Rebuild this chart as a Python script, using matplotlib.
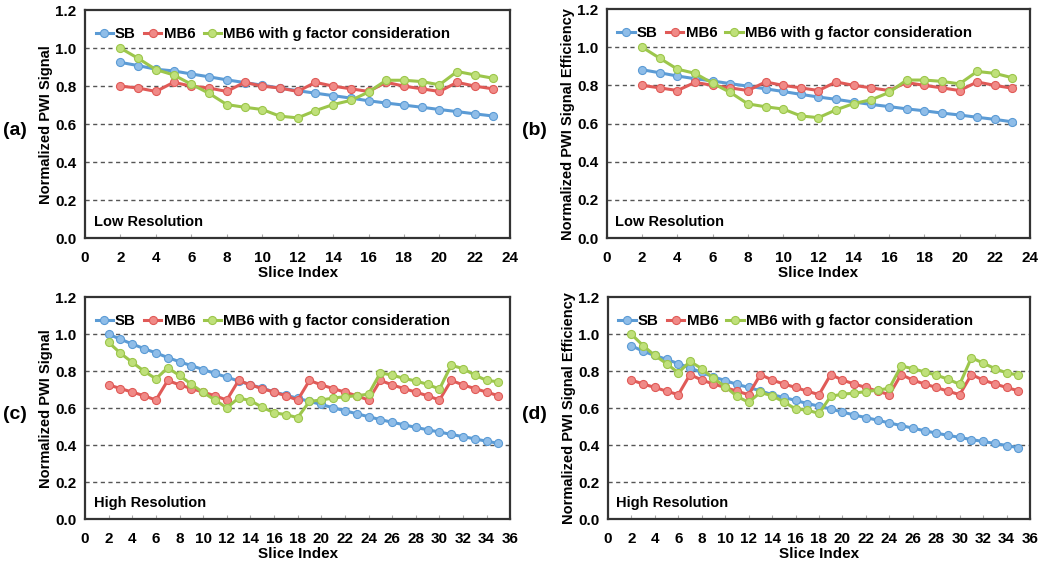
import matplotlib
matplotlib.use("Agg")
import matplotlib.pyplot as plt
from matplotlib.ticker import MultipleLocator

plt.rcParams['font.family'] = ['Liberation Sans', 'DejaVu Sans']
plt.rcParams['font.weight'] = 'bold'

# ---------------- data ----------------
slices_low = list(range(2, 24))
slices_high = list(range(2, 36))

a_sb = [0.925, 0.908, 0.889, 0.880, 0.864, 0.849, 0.833, 0.819, 0.805, 0.790, 0.776,
        0.763, 0.750, 0.737, 0.723, 0.711, 0.700, 0.689, 0.677, 0.666, 0.654, 0.643]
a_mb6 = [0.800, 0.790, 0.772, 0.820, 0.800, 0.790, 0.772, 0.820, 0.800, 0.790, 0.772,
         0.820, 0.800, 0.786, 0.772, 0.820, 0.800, 0.786, 0.772, 0.820, 0.800, 0.786]
a_mb6g = [1.000, 0.946, 0.887, 0.859, 0.810, 0.762, 0.703, 0.689, 0.677, 0.642, 0.633,
          0.671, 0.703, 0.725, 0.769, 0.831, 0.831, 0.824, 0.807, 0.877, 0.859, 0.842]

b_sb = [0.882, 0.866, 0.849, 0.835, 0.823, 0.809, 0.796, 0.782, 0.768, 0.753, 0.739,
        0.727, 0.713, 0.700, 0.689, 0.677, 0.667, 0.655, 0.645, 0.633, 0.622, 0.609]
b_mb6 = [0.800, 0.787, 0.773, 0.816, 0.800, 0.787, 0.773, 0.818, 0.800, 0.787, 0.773,
         0.818, 0.800, 0.787, 0.773, 0.815, 0.800, 0.787, 0.773, 0.818, 0.800, 0.785]
b_mb6g = [1.000, 0.942, 0.885, 0.863, 0.811, 0.763, 0.703, 0.688, 0.676, 0.640, 0.631,
          0.672, 0.705, 0.725, 0.763, 0.828, 0.828, 0.821, 0.808, 0.873, 0.863, 0.840]

c_sb = [1.000, 0.973, 0.947, 0.922, 0.899, 0.874, 0.851, 0.830, 0.809, 0.788, 0.768,
        0.747, 0.727, 0.708, 0.688, 0.671, 0.653, 0.637, 0.620, 0.602, 0.586, 0.570,
        0.554, 0.538, 0.524, 0.510, 0.496, 0.483, 0.471, 0.458, 0.446, 0.434, 0.421, 0.410]
c_mb6 = [0.726, 0.706, 0.687, 0.667, 0.644,
         0.750, 0.726, 0.706, 0.687, 0.667, 0.644,
         0.750, 0.726, 0.706, 0.687, 0.667, 0.644,
         0.750, 0.726, 0.706, 0.687, 0.667, 0.644,
         0.750, 0.726, 0.706, 0.687, 0.667, 0.644,
         0.750, 0.726, 0.706, 0.687, 0.667]
c_mb6g = [0.956, 0.897, 0.848, 0.800, 0.759, 0.818, 0.777, 0.729, 0.685, 0.644, 0.602,
          0.655, 0.641, 0.605, 0.575, 0.565, 0.549, 0.637, 0.644, 0.655, 0.662, 0.667,
          0.676, 0.791, 0.779, 0.761, 0.747, 0.729, 0.703, 0.832, 0.814, 0.779, 0.750, 0.743]

d_sb = [0.938, 0.908, 0.885, 0.864, 0.841, 0.818, 0.793, 0.770, 0.749, 0.729, 0.712,
        0.694, 0.673, 0.658, 0.642, 0.625, 0.611, 0.596, 0.579, 0.563, 0.549, 0.535,
        0.520, 0.506, 0.492, 0.478, 0.465, 0.453, 0.442, 0.430, 0.420, 0.409, 0.398, 0.386]
d_mb6 = [0.752, 0.731, 0.712, 0.692, 0.673,
         0.782, 0.752, 0.731, 0.712, 0.692, 0.673,
         0.782, 0.752, 0.731, 0.712, 0.692, 0.673,
         0.782, 0.752, 0.731, 0.712, 0.692, 0.673,
         0.782, 0.752, 0.731, 0.712, 0.692, 0.673,
         0.782, 0.752, 0.731, 0.712, 0.694]
d_mb6g = [1.000, 0.938, 0.885, 0.841, 0.791, 0.853, 0.814, 0.761, 0.717, 0.664, 0.632,
          0.685, 0.667, 0.634, 0.596, 0.589, 0.572, 0.664, 0.676, 0.681, 0.690, 0.697,
          0.708, 0.828, 0.814, 0.796, 0.779, 0.757, 0.729, 0.873, 0.844, 0.814, 0.791, 0.779]

series_names = ['SB', 'MB6', 'MB6 with g factor consideration']
y_ticks = [0.0, 0.2, 0.4, 0.6, 0.8, 1.0, 1.2]

panels = [
    dict(label='(a)', x=slices_low, ys=[a_sb, a_mb6, a_mb6g], xmax=24,
         ylabel='Normalized PWI Signal', note='Low Resolution',
         rect=[0.081, 0.577, 0.405, 0.405], lx=0.003),
    dict(label='(b)', x=slices_low, ys=[b_sb, b_mb6, b_mb6g], xmax=24,
         ylabel='Normalized PWI Signal Efficiency', note='Low Resolution',
         rect=[0.578, 0.577, 0.403, 0.407], lx=0.497),
    dict(label='(c)', x=slices_high, ys=[c_sb, c_mb6, c_mb6g], xmax=36,
         ylabel='Normalized PWI Signal', note='High Resolution',
         rect=[0.081, 0.078, 0.405, 0.394], lx=0.003),
    dict(label='(d)', x=slices_high, ys=[d_sb, d_mb6, d_mb6g], xmax=36,
         ylabel='Normalized PWI Signal Efficiency', note='High Resolution',
         rect=[0.579, 0.078, 0.402, 0.394], lx=0.497),
]

line_colors = ['#5b9bd5', '#e05a57', '#9cc64b']
face_colors = ['#8fbde8', '#f08a87', '#bfe07a']

fig = plt.figure(figsize=(10.5, 5.63), dpi=100)

for p in panels:
    ax = fig.add_axes(p['rect'])
    for ys, name, lc, fc in zip(p['ys'], series_names, line_colors, face_colors):
        ax.plot(p['x'], ys, color=lc, lw=2.2, marker='o', ms=5.8,
                markerfacecolor=fc, markeredgecolor=lc, markeredgewidth=0.8,
                label=name, zorder=3)
    ax.set_xlim(0, p['xmax'])
    ax.set_ylim(0, 1.2)
    ax.set_yticks(y_ticks)
    ax.set_yticklabels([f'{v:.1f}' for v in y_ticks])
    ax.xaxis.set_major_locator(MultipleLocator(2))
    for yv in y_ticks[1:-1]:
        ax.axhline(yv, color='#555555', lw=1.0, ls=(0, (3, 2.5)), zorder=1)
    ax.tick_params(axis='x', direction='in', length=3, color='#aaaaaa',
                   labelsize=11, pad=9)
    ax.tick_params(axis='y', length=0, labelsize=11, pad=6)
    for lab in ax.get_xticklabels() + ax.get_yticklabels():
        lab.set_fontweight('bold')
    for s in ax.spines.values():
        s.set_color('#333333')
        s.set_linewidth(1.6)
    ax.set_xlabel('Slice Index', fontsize=11, fontweight='bold', labelpad=1)
    ax.set_ylabel(p['ylabel'], fontsize=10.5, fontweight='bold', labelpad=2)
    ax.text(0.02, 0.04, p['note'], transform=ax.transAxes, fontsize=10.5,
            fontweight='bold', ha='left', va='bottom')
    ax.legend(loc='upper left', ncol=3, frameon=False,
              handlelength=1.15, handletextpad=0.15, columnspacing=0.55,
              borderaxespad=0.3, bbox_to_anchor=(0.0, 0.97),
              prop={'weight': 'bold', 'size': 10.8})
    bb = p['rect']
    fig.text(p['lx'], bb[1] + bb[3] * 0.47, p['label'],
             fontsize=14, fontweight='bold', ha='left', va='center')

fig.savefig('out.png', dpi=100)
